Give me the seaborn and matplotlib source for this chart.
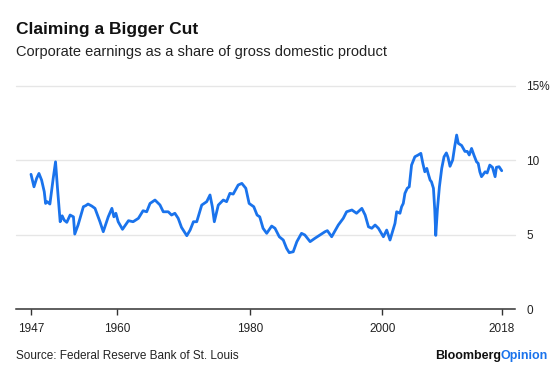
import matplotlib
matplotlib.use("Agg")
import matplotlib.pyplot as plt
import seaborn as sns
import pandas as pd

years = [
    1947.0, 1947.45, 1947.85, 1948.2, 1948.6, 1949.0, 1949.2, 1949.45, 1949.85, 1950.35,
    1950.7, 1951.0, 1951.4, 1951.7, 1952.0, 1952.4, 1952.9, 1953.4, 1953.6, 1954.1,
    1954.9, 1955.25, 1955.6, 1956.15, 1956.65, 1957.4, 1957.9, 1958.65, 1959.2, 1959.5,
    1959.8, 1960.15, 1960.8, 1961.7, 1962.4, 1963.2, 1963.9, 1964.45, 1964.95, 1965.7,
    1966.45, 1966.95, 1967.7, 1968.2, 1968.7, 1969.2, 1969.7, 1970.5, 1971.0, 1971.5,
    1972.0, 1972.75, 1973.5, 1974.0, 1974.35, 1974.65, 1975.25, 1976.0, 1976.5, 1977.0,
    1977.5, 1978.25, 1978.8, 1979.4, 1979.9, 1980.6, 1981.1, 1981.5, 1982.0, 1982.55,
    1983.3, 1983.8, 1984.45, 1985.05, 1985.55, 1985.95, 1986.55, 1987.1, 1987.8, 1988.3,
    1989.1, 1989.8, 1990.6, 1991.35, 1991.7, 1992.35, 1993.35, 1994.1, 1994.6, 1995.4,
    1996.1, 1996.9, 1997.4, 1997.9, 1998.4, 1998.9, 1999.4, 2000.15, 2000.65, 2001.15,
    2001.9, 2002.15, 2002.65, 2002.9, 2003.15, 2003.4, 2003.75, 2004.05, 2004.4, 2004.9,
    2005.4, 2005.8, 2006.1, 2006.4, 2006.7, 2006.9, 2007.2, 2007.4, 2007.7, 2007.9,
    2008.05, 2008.3, 2008.6, 2008.95, 2009.3, 2009.65, 2009.9, 2010.2, 2010.6, 2010.9,
    2011.2, 2011.45, 2011.95, 2012.45, 2012.8, 2013.1, 2013.45, 2013.8, 2014.2, 2014.45,
    2014.7, 2014.95, 2015.5, 2015.8, 2016.2, 2016.6, 2017.0, 2017.2, 2017.6, 2018.0,
]
share = [
    9.06, 8.22, 8.79, 9.12, 8.67, 7.89, 7.10, 7.22, 7.06, 8.79,
    9.90, 8.10, 5.87, 6.27, 5.98, 5.83, 6.32, 6.20, 5.04, 5.65,
    6.88, 6.95, 7.06, 6.93, 6.77, 5.87, 5.20, 6.20, 6.77, 6.20,
    6.44, 5.87, 5.36, 5.94, 5.87, 6.10, 6.61, 6.54, 7.10, 7.33,
    7.00, 6.54, 6.54, 6.32, 6.44, 6.10, 5.49, 4.93, 5.31, 5.87,
    5.87, 6.99, 7.22, 7.67, 6.88, 5.87, 6.99, 7.33, 7.22, 7.78,
    7.73, 8.34, 8.45, 8.12, 7.10, 6.88, 6.32, 6.20, 5.43, 5.09,
    5.58, 5.43, 4.86, 4.64, 4.08, 3.79, 3.85, 4.53, 5.09, 4.98,
    4.53, 4.75, 4.98, 5.20, 5.27, 4.86, 5.65, 6.10, 6.54, 6.66,
    6.44, 6.77, 6.32, 5.53, 5.43, 5.65, 5.43, 4.86, 5.31, 4.64,
    5.76, 6.54, 6.44, 6.88, 7.10, 7.78, 8.12, 8.22, 9.68, 10.24,
    10.36, 10.47, 9.80, 9.23, 9.46, 9.12, 8.67, 8.56, 8.12, 6.66,
    4.95, 6.70, 8.22, 9.46, 10.24, 10.50, 10.20, 9.60, 10.02, 10.91,
    11.70, 11.14, 11.00, 10.60, 10.60, 10.36, 10.80, 10.36, 9.90, 9.80,
    9.23, 8.90, 9.23, 9.15, 9.68, 9.53, 8.90, 9.53, 9.57, 9.30,
]
x_ticks = [1947, 1960, 1980, 2000, 2018]
x_labels = ["1947", "1960", "1980", "2000", "2018"]
y_ticks = [0, 5, 10, 15]
y_labels = ["0", "5", "10", "15%"]

title = "Claiming a Bigger Cut"
subtitle = "Corporate earnings as a share of gross domestic product"
source = "Source: Federal Reserve Bank of St. Louis"

sns.set_theme(style="white")
plt.rcParams["font.family"] = ["Liberation Sans", "DejaVu Sans"]

BLUE = "#1a73ec"
df = pd.DataFrame({"year": years, "share": share})

fig = plt.figure(figsize=(5.6, 3.69), dpi=100)
ax = fig.add_axes([16 / 560, (369 - 309) / 369, 499 / 560, 223 / 369])

sns.lineplot(data=df, x="year", y="share", ax=ax, color=BLUE, linewidth=2.0,
             clip_on=False, zorder=3)

ax.set_xlim(1947 - 15 / 6.63, 1947 + 484 / 6.63)
ax.set_ylim(0, 15)
ax.set_xlabel("")
ax.set_ylabel("")

for v in y_ticks[1:]:
    ax.axhline(v, color="#e6e6e6", linewidth=1.0, zorder=1, clip_on=False)

for s in ["top", "left", "right"]:
    ax.spines[s].set_visible(False)
ax.spines["bottom"].set_color("#333333")
ax.spines["bottom"].set_linewidth(1.1)

ax.set_xticks(x_ticks)
ax.set_xticklabels(x_labels)
ax.set_yticks(y_ticks)
ax.set_yticklabels(y_labels)
ax.yaxis.tick_right()
ax.tick_params(axis="y", length=0, pad=8, labelsize=8.5, labelcolor="#222222")
ax.tick_params(axis="x", direction="out", length=4, width=1, color="#333333",
               pad=6, labelsize=8.5, labelcolor="#222222", bottom=True)
for lab in ax.get_yticklabels():
    lab.set_horizontalalignment("left")

fig.text(16 / 560, 1 - 34 / 369, title, fontsize=12.5, fontweight="bold",
         color="#111111", ha="left", va="baseline")
fig.text(16 / 560, 1 - 56 / 369, subtitle, fontsize=10.5, color="#222222",
         ha="left", va="baseline")
fig.text(16 / 560, 1 - 359 / 369, source, fontsize=8.5, color="#222222",
         ha="left", va="baseline")
op = fig.text(548 / 560, 1 - 359 / 369, "Opinion", fontsize=9, fontweight="bold",
              color=BLUE, ha="right", va="baseline")
ax.annotate("Bloomberg", xy=(0, 0), xycoords=op, ha="right", va="bottom",
            fontsize=9, fontweight="bold", color="#111111", annotation_clip=False)

fig.savefig("out.png", dpi=100)
